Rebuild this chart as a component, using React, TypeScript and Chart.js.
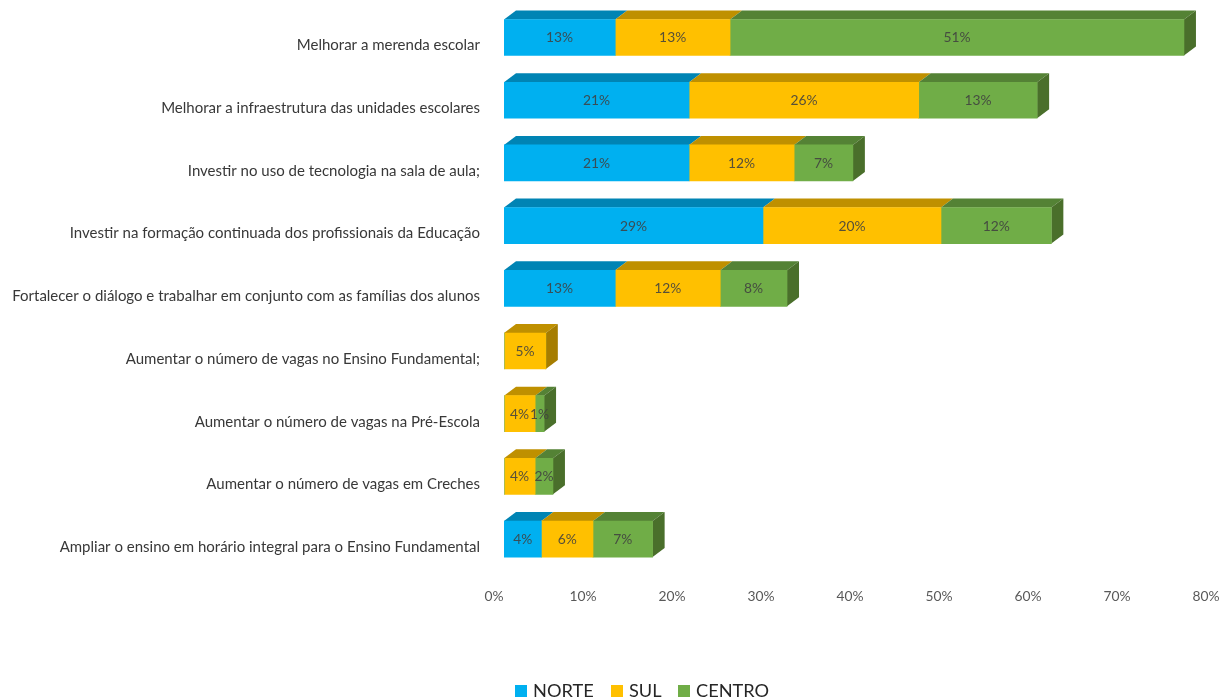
import React, { useEffect, useRef } from "react";
import { Chart, registerables } from "chart.js";

Chart.register(...registerables);

const categories = [
  "Melhorar a merenda escolar",
  "Melhorar a infraestrutura das unidades escolares",
  "Investir no uso de tecnologia na sala de aula;",
  "Investir na formação continuada dos profissionais da Educação",
  "Fortalecer o diálogo e trabalhar em conjunto com as famílias dos alunos",
  "Aumentar o número de vagas no Ensino Fundamental;",
  "Aumentar o número de vagas na Pré-Escola",
  "Aumentar o número de vagas em Creches",
  "Ampliar o ensino em horário integral para o Ensino Fundamental",
];
const norte = [12.5, 20.8, 20.8, 29.1, 12.5, 0, 0, 0, 4.2];
const sul = [12.9, 25.8, 11.8, 20, 11.8, 4.7, 3.5, 3.5, 5.8];
const centro = [51, 13.3, 6.6, 12.4, 7.5, 0, 1.0, 2, 6.7];

const FONT = "Lato, Carlito, sans-serif";
const DEPTH_X = 12;
const DEPTH_Y = 9;

const seriesStyle = [
  { label: "NORTE", data: norte, front: "#00B0F0", top: "#0084B4", side: "#006A90" },
  { label: "SUL", data: sul, front: "#FFC000", top: "#BF9000", side: "#A67D00" },
  { label: "CENTRO", data: centro, front: "#70AD47", top: "#548235", side: "#4A6F2B" },
];

const depthPlugin = {
  id: "depth",
  beforeDatasetsDraw(chart: any) {
    const { ctx } = chart;
    const n = chart.data.labels.length;
    ctx.save();
    for (let i = n - 1; i >= 0; i--) {
      let last: any = null;
      let lastStyle: any = null;
      seriesStyle.forEach((s, d) => {
        if (!s.data[i]) return;
        const bar = chart.getDatasetMeta(d).data[i] as any;
        const top = bar.y - bar.height / 2;
        ctx.fillStyle = s.top;
        ctx.beginPath();
        ctx.moveTo(bar.base, top);
        ctx.lineTo(bar.base + DEPTH_X, top - DEPTH_Y);
        ctx.lineTo(bar.x + DEPTH_X, top - DEPTH_Y);
        ctx.lineTo(bar.x, top);
        ctx.closePath();
        ctx.fill();
        last = bar;
        lastStyle = s;
      });
      if (last) {
        const top = last.y - last.height / 2;
        const bottom = last.y + last.height / 2;
        ctx.fillStyle = lastStyle.side;
        ctx.beginPath();
        ctx.moveTo(last.x, top);
        ctx.lineTo(last.x + DEPTH_X, top - DEPTH_Y);
        ctx.lineTo(last.x + DEPTH_X, bottom - DEPTH_Y);
        ctx.lineTo(last.x, bottom);
        ctx.closePath();
        ctx.fill();
      }
    }
    ctx.restore();
  },
  afterDatasetsDraw(chart: any) {
    const { ctx } = chart;
    ctx.save();
    ctx.font = `13.8px ${FONT}`;
    ctx.fillStyle = "rgba(64,64,64,0.88)";
    ctx.textAlign = "center";
    ctx.textBaseline = "middle";
    seriesStyle.forEach((s, d) => {
      s.data.forEach((v, i) => {
        if (!v) return;
        const bar = chart.getDatasetMeta(d).data[i] as any;
        ctx.fillText(`${v.toFixed(0)}%`, (bar.base + bar.x) / 2, bar.y + 0.5);
      });
    });
    ctx.restore();
  },
  afterDraw(chart: any) {
    const { ctx } = chart;
    const boxX = [515, 611, 678];
    ctx.save();
    ctx.font = `18.2px ${FONT}`;
    ctx.textAlign = "left";
    ctx.textBaseline = "middle";
    chart.data.datasets.forEach((ds: any, d: number) => {
      ctx.fillStyle = ds.backgroundColor;
      ctx.fillRect(boxX[d], 685, 12, 12);
      ctx.fillStyle = "#262626";
      ctx.fillText(ds.label, boxX[d] + 18, 691);
    });
    ctx.restore();
  },
};

function zeroPadding(scale: any) {
  scale.paddingTop = 0;
  scale.paddingBottom = 0;
  scale.paddingLeft = 0;
  scale.paddingRight = 0;
}

export default function App() {
  const ref = useRef<HTMLCanvasElement>(null);

  useEffect(() => {
    document.body.style.margin = "0";
    document.body.style.overflow = "hidden";
    const chart = new Chart(ref.current as HTMLCanvasElement, {
      type: "bar",
      data: {
        labels: categories,
        datasets: seriesStyle.map((s) => ({
          label: s.label,
          data: s.data,
          backgroundColor: s.front,
          borderWidth: 0,
          barThickness: 36,
        })),
      },
      plugins: [depthPlugin],
      options: {
        indexAxis: "y",
        responsive: false,
        animation: false,
        layout: { padding: { top: 6.2, right: 15, left: 0, bottom: 0 } },
        plugins: { legend: { display: false }, tooltip: { enabled: false } },
        scales: {
          x: {
            stacked: true,
            min: 0,
            max: 80,
            grid: { display: false, drawTicks: false },
            border: { display: false },
            afterFit(scale: any) {
              scale.height = 129.6;
              zeroPadding(scale);
            },
            ticks: {
              stepSize: 10,
              padding: 18,
              labelOffset: -10,
              maxRotation: 0,
              color: "#595959",
              font: { family: FONT, size: 13.8 },
              callback: (v: any) => `${v}%`,
            },
          },
          y: {
            stacked: true,
            grid: { display: false, drawTicks: false },
            border: { display: false },
            afterFit(scale: any) {
              scale.width = 504;
              zeroPadding(scale);
            },
            ticks: {
              padding: 24,
              labelOffset: 8,
              autoSkip: false,
              color: "#383838",
              font: { family: FONT, size: 15 },
            },
          },
        },
      },
    } as any);
    return () => chart.destroy();
  }, []);

  return <canvas ref={ref} width={1231} height={700} style={{ display: "block" }} />;
}
